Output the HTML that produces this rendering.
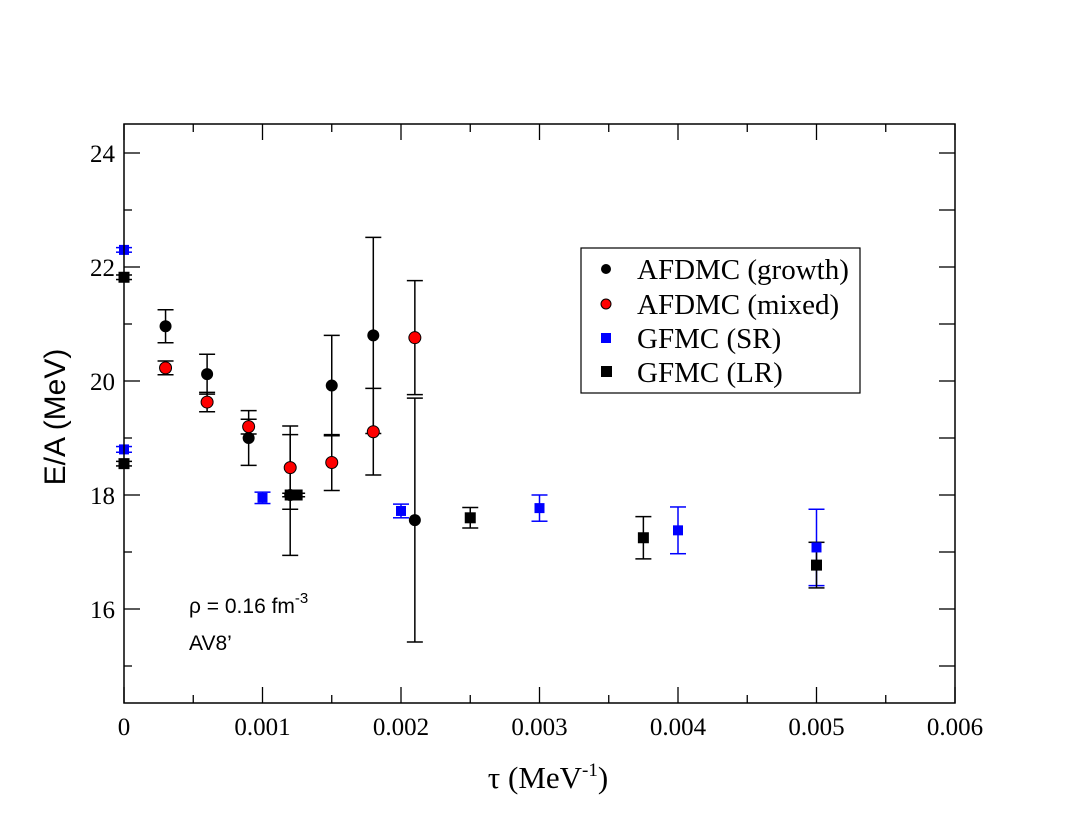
<!DOCTYPE html>
<html><head><meta charset="utf-8"><style>
body{margin:0;background:#fff}
svg text{font-family:"Liberation Serif",serif}
</style></head><body>
<svg id="chart" width="1075" height="830" xmlns="http://www.w3.org/2000/svg">
<rect x="0" y="0" width="1075" height="830" fill="#fff"/>
<g id="grid"></g>
<g id="marks"></g>
<rect x="124" y="124" width="831" height="579" fill="none" stroke="#000" stroke-width="1.5"/>
<text transform="translate(65,417) rotate(-90)" text-anchor="middle" font-size="30" style="font-family:'Liberation Sans',sans-serif">E/A (MeV)</text>
<text x="548" y="788" text-anchor="middle" font-size="31">τ (MeV<tspan dy="-12" font-size="19">-1</tspan><tspan dy="12">)</tspan></text>
<text x="189" y="613" font-size="21" style="font-family:'Liberation Sans',sans-serif">ρ = 0.16 fm<tspan dy="-10" font-size="15">-3</tspan></text>
<text x="189" y="650" font-size="21" style="font-family:'Liberation Sans',sans-serif">AV8’</text>
<g>
<rect x="581" y="248" width="279" height="145" fill="#fff" stroke="#000" stroke-width="1.2"/>
<circle cx="606" cy="269" r="5" fill="#000"/>
<text x="637" y="279" font-size="29">AFDMC (growth)</text>
<circle cx="606" cy="304" r="5" fill="#f00" stroke="#000" stroke-width="1"/>
<text x="637" y="314" font-size="29">AFDMC (mixed)</text>
<rect x="601" y="333" width="10" height="10" fill="#00f"/>
<text x="637" y="348" font-size="29">GFMC (SR)</text>
<rect x="601" y="366" width="11" height="11" fill="#000"/>
<text x="637" y="382" font-size="29">GFMC (LR)</text>
</g>
</svg>
<script>
const growthX=[0.0003,0.0006,0.0009,0.0012,0.0015,0.0018,0.0021];
const growthY=[20.96,20.12,19.0,18.0,19.92,20.8,17.56];
const growthErr=[0.29,0.35,0.48,1.06,0.88,1.72,2.14];
const mixedX=[0.0003,0.0006,0.0009,0.0012,0.0015,0.0018,0.0021];
const mixedY=[20.23,19.63,19.2,18.48,18.57,19.11,20.76];
const mixedErr=[0.12,0.17,0.13,0.73,0.49,0.76,1.0];
const srX=[0,0,0.001,0.002,0.003,0.004,0.005];
const srY=[22.3,18.8,17.95,17.72,17.77,17.38,17.08];
const srErr=[0.04,0.05,0.1,0.12,0.23,0.41,0.67];
const lrX=[0,0,0.0012,0.00125,0.0025,0.00375,0.005];
const lrY=[21.82,18.55,18.0,18.0,17.6,17.25,16.77];
const lrErr=[0.04,0.04,0.03,0.03,0.18,0.37,0.4];
const xTicks=[0,0.001,0.002,0.003,0.004,0.005,0.006];
const xTickLabels=["0","0.001","0.002","0.003","0.004","0.005","0.006"];
const yTicks=[16,18,20,22,24];
const yTickLabels=["16","18","20","22","24"];

const NS="http://www.w3.org/2000/svg";
const X0=124,X1=955,Y0=703,Y1=124;
const xmin=0,xmax=0.006,ymin=24-(703-153)/57,ymax=24+(153-124)/57;
const sx=v=>X0+(v-xmin)/(xmax-xmin)*(X1-X0);
const sy=v=>Y0-(v-ymin)/(ymax-ymin)*(Y0-Y1);
const grid=document.getElementById('grid'),marks=document.getElementById('marks');
function mk(tag,at,parent){const e=document.createElementNS(NS,tag);for(const k in at)e.setAttribute(k,at[k]);parent.appendChild(e);return e;}
for(let i=0;i<=12;i++){const v=i*0.0005;const major=i%2===0;const x=sx(v);const L=major?16:8;
 const t=mk('line',{x1:x,x2:x,y1:Y0,y2:Y0-L,stroke:'#000','stroke-width':1.3},grid);
 
 
 const t2=mk('line',{x1:x,x2:x,y1:Y1,y2:Y1+L,stroke:'#000','stroke-width':1.3},grid);
 
 }
xTicks.forEach((v,i)=>{const t=mk('text',{x:sx(v),y:735,'text-anchor':'middle','font-size':25},grid);t.textContent=xTickLabels[i];
 
 });
for(let v=15;v<=24;v++){const major=v%2===0;const y=sy(v);
 const t=mk('line',{x1:X0,x2:X0+(major?16:8),y1:y,y2:y,stroke:'#000','stroke-width':1.3},grid);
 
 
 const t2=mk('line',{x1:X1,x2:X1-16,y1:y,y2:y,stroke:'#000','stroke-width':1.3},grid);
 
 }
yTicks.forEach((v,i)=>{const t=mk('text',{x:115,y:sy(v)+9,'text-anchor':'end','font-size':25},grid);t.textContent=yTickLabels[i];
 
 });
function errbar(x,y,e,col){const cx=sx(x),a=sy(y+e),b=sy(y-e);
 const g=mk('g',{stroke:col,'stroke-width':1.5},marks);
 
 
 mk('line',{x1:cx,x2:cx,y1:a,y2:b},g);mk('line',{x1:cx-8,x2:cx+8,y1:a,y2:a},g);mk('line',{x1:cx-8,x2:cx+8,y1:b,y2:b},g);}
srX.forEach((x,i)=>{errbar(x,srY[i],srErr[i],'#00f');});
lrX.forEach((x,i)=>{errbar(x,lrY[i],lrErr[i],'#000');});
growthX.forEach((x,i)=>{errbar(x,growthY[i],growthErr[i],'#000');});
mixedX.forEach((x,i)=>{errbar(x,mixedY[i],mixedErr[i],'#000');});
srX.forEach((x,i)=>{const r=mk('rect',{x:sx(x)-5,y:sy(srY[i])-5,width:10,height:10,fill:'#00f'},marks);
 
 });
lrX.forEach((x,i)=>{const r=mk('rect',{x:sx(x)-5.5,y:sy(lrY[i])-5.5,width:11,height:11,fill:'#000'},marks);
 
 });
growthX.forEach((x,i)=>{const c=mk('circle',{cx:sx(x),cy:sy(growthY[i]),r:6,fill:'#000'},marks);
 
 });
mixedX.forEach((x,i)=>{const c=mk('circle',{cx:sx(x),cy:sy(mixedY[i]),r:6,fill:'#f00',stroke:'#000','stroke-width':1},marks);
 
 });
</script>
</body></html>
